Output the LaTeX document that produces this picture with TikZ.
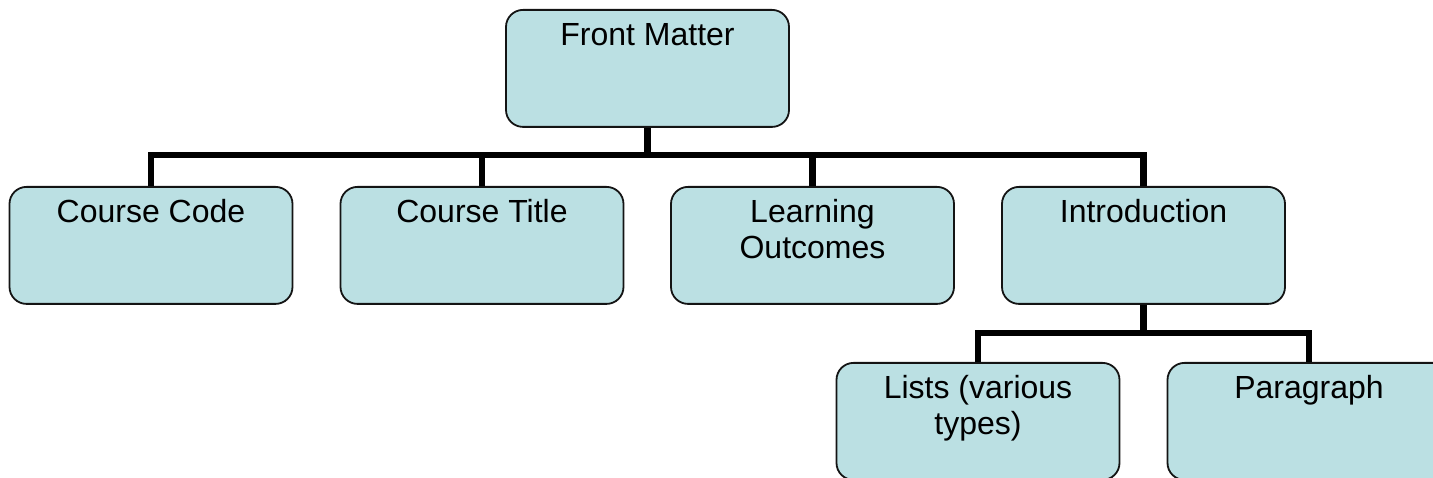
\documentclass[tikz,border=0pt]{standalone}
\usepackage{fontspec}
\setmainfont{Liberation Sans}
\definecolor{boxfill}{RGB}{187,224,227}
\definecolor{boxline}{RGB}{20,20,20}
\begin{document}
\begin{tikzpicture}[x=1pt,y=-1pt,
  box/.style={draw=boxline, fill=boxfill, line width=1.8pt, rounded corners=17pt,
    minimum width=283pt, minimum height=117pt, inner sep=0pt, anchor=north},
  lbl/.style={anchor=north, inner sep=0pt, align=center,
    font=\fontsize{32}{36}\selectfont},
  conn/.style={draw=black, line width=6.5pt}]
\useasboundingbox (0,0) rectangle (1433,478);
% boxes
\node[box] (fm) at (647.5,9) {};
\node[box] (cc) at (151,186) {};
\node[box] (ct) at (482,186) {};
\node[box] (lo) at (812.5,186) {};
\node[box] (in) at (1143.5,186) {};
\node[box] (li) at (978,362) {};
\node[box] (pa) at (1309,362) {};
% texts
\node[lbl] (tfm) at ([yshift=-14pt]fm.north) {Front Matter};
\node[lbl] (tcc) at ([yshift=-13pt]cc.north) {Course Code};
\node[lbl] (tct) at ([yshift=-13pt]ct.north) {Course Title};
\node[lbl] (tlo) at ([yshift=-13pt]lo.north) {Learning\\Outcomes};
\node[lbl] (tin) at ([yshift=-13pt]in.north) {Introduction};
\node[lbl] (tli) at ([yshift=-13pt]li.north) {Lists (various\\types)};
\node[lbl] (tpa) at ([yshift=-13pt]pa.north) {Paragraph};
% connectors
\coordinate (b1) at (647.5,155);
\coordinate (b2) at (1143.5,333);
\draw[conn] (fm.south) -- (b1);
\draw[conn] (cc.north) |- (b1) -| (in.north);
\draw[conn] (ct.north) -- (ct.north |- b1);
\draw[conn] (lo.north) -- (lo.north |- b1);
\draw[conn] (in.south) -- (b2);
\draw[conn] (li.north) |- (b2) -| (pa.north);
\end{tikzpicture}
\end{document}
